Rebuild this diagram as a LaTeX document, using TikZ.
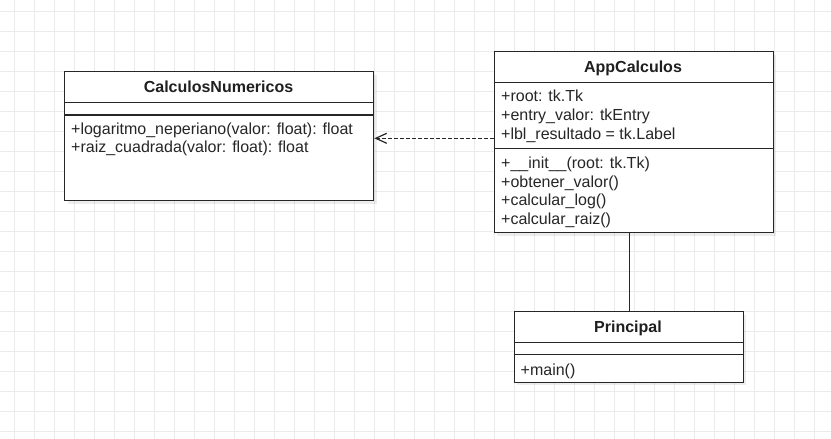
\documentclass[tikz,border=0pt]{standalone}
\usepackage{fontspec}
\setmainfont{Liberation Sans}
\usetikzlibrary{arrows.meta,calc,shadows}
\begin{document}
\begin{tikzpicture}[x=1pt,y=-1pt,
  gridline/.style={draw=black!8,line width=0.8pt},
  classbox/.style={draw=black!85,fill=white,line width=1.3pt,anchor=north west,inner sep=0pt,
    drop shadow={shadow xshift=3pt,shadow yshift=-3pt,fill=black,opacity=0.07}},
  divider/.style={draw=black!85,line width=1.2pt},
  ctitle/.style={anchor=base,inner sep=0pt,font=\fontsize{16}{19}\selectfont\bfseries,text=black!88},
  member/.style={anchor=base west,inner sep=0pt,font=\fontsize{16}{19}\selectfont,text=black!85},
  assoc/.style={draw=black!85,line width=1.1pt},
  dep/.style={draw=black!85,line width=1.2pt,dash pattern=on 3.5pt off 2.5pt,
    -{Straight Barb[length=11pt,width=10pt]}}
]
\useasboundingbox (0,0) rectangle (831,439);
\fill[white] (0,0) rectangle (831,439);
% grid
\foreach \k in {0,...,40} \draw[gridline] (14.3+20*\k,0) -- (14.3+20*\k,439);
\foreach \k in {0,...,21} \draw[gridline] (0,11.5+20*\k) -- (831,11.5+20*\k);

% CalculosNumericos
\node[classbox,minimum width=309pt,minimum height=129pt] (cn) at (64,71) {};
\draw[divider] ($(cn.north west)+(0,31.3)$) -- ($(cn.north east)+(0,31.3)$);
\draw[divider] ($(cn.north west)+(0,44)$) -- ($(cn.north east)+(0,44)$);
\node[ctitle] (cnt) at (218.5,92.3) {CalculosNumericos};
\node[member] (cnm1) at (71,134) {+logaritmo\_neperiano(valor: float): float};
\node[member] (cnm2) at (71,152.3) {+raiz\_cuadrada(valor: float): float};

% AppCalculos
\node[classbox,minimum width=279pt,minimum height=181pt] (app) at (493.5,51) {};
\draw[divider] ($(app.north west)+(0,31.3)$) -- ($(app.north east)+(0,31.3)$);
\draw[divider] ($(app.north west)+(0,97.3)$) -- ($(app.north east)+(0,97.3)$);
\node[ctitle] (appt) at (633,72.3) {AppCalculos};
\node[member] (appa1) at (501,101.7) {+root: tk.Tk};
\node[member] (appa2) at (501,120.5) {+entry\_valor: tkEntry};
\node[member] (appa3) at (501,139.3) {+lbl\_resultado = tk.Label};
\node[member] (appm1) at (501,168.3) {+\_\_init\_\_(root: tk.Tk)};
\node[member] (appm2) at (501,187) {+obtener\_valor()};
\node[member] (appm3) at (501,205.7) {+calcular\_log()};
\node[member] (appm4) at (501,224.3) {+calcular\_raiz()};

% Principal
\node[classbox,minimum width=229pt,minimum height=70.5pt] (pr) at (513.5,311) {};
\draw[divider] ($(pr.north west)+(0,31.3)$) -- ($(pr.north east)+(0,31.3)$);
\draw[divider] ($(pr.north west)+(0,43.3)$) -- ($(pr.north east)+(0,43.3)$);
\node[ctitle] (prt) at (628,332.3) {Principal};
\node[member] (prm1) at (520.5,375) {+main()};

% connectors
\coordinate (vx) at (629.5,0);
\draw[assoc] (vx |- app.south) -- (vx |- pr.north);
\coordinate (hy) at (0,138.3);
\draw[dep] (hy -| app.west) -- (hy -| cn.east);
\end{tikzpicture}
\end{document}
